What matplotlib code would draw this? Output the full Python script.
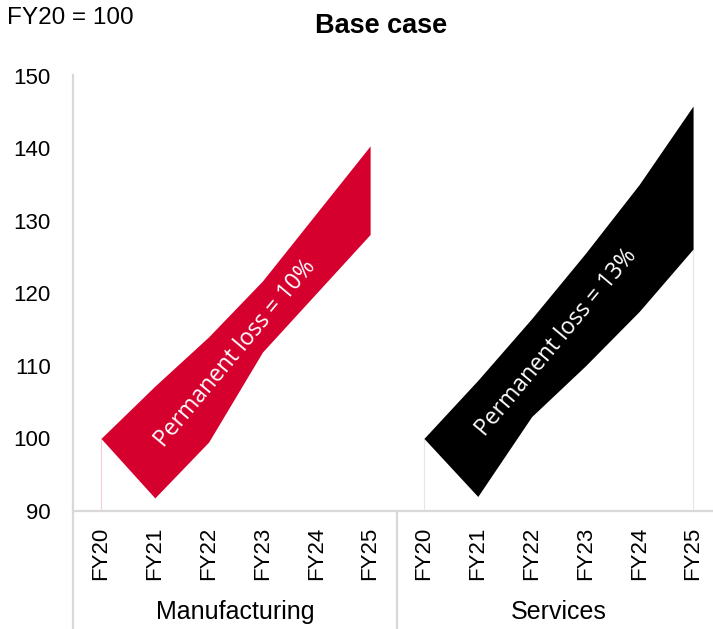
import matplotlib
matplotlib.use("Agg")
import matplotlib.pyplot as plt
from matplotlib.lines import Line2D
import numpy as np

plt.rcParams['font.family'] = ['Liberation Sans', 'DejaVu Sans']

# Index levels, FY20 = 100
years = ["FY20", "FY21", "FY22", "FY23", "FY24", "FY25"]
sectors = ["Manufacturing", "Services"]

mfg_upper = [100, 107.2, 114.0, 121.7, 131.0, 140.3]
mfg_lower = [100, 91.8, 99.5, 111.9, 120.0, 128.1]
svc_upper = [100, 108.0, 116.5, 125.5, 135.0, 145.8]
svc_lower = [100, 92.0, 103.0, 110.0, 117.5, 126.1]

loss_labels = ["Permanent loss = 10%", "Permanent loss = 13%"]
band_colors = ["#D6002F", "#000000"]

y_ticks = [90, 100, 110, 120, 130, 140, 150]

W, H = 713, 629
fig = plt.figure(figsize=(W / 100, H / 100), dpi=100)

ax_left, ax_right = 73 / W, 1.0
ax_bottom, ax_top = 1 - 511 / H, 1 - 75.5 / H
ax = fig.add_axes([ax_left, ax_bottom, ax_right - ax_left, ax_top - ax_bottom])

n = len(years)
x_mfg = np.arange(n)
x_svc = np.arange(n) + n

groups = [
    (x_mfg, mfg_lower, mfg_upper),
    (x_svc, svc_lower, svc_upper),
]
edge_colors = ["#F6CDD6", "#E6E6E6"]

for (xs, lo, up), col, ecol in zip(groups, band_colors, edge_colors):
    ax.fill_between(xs, lo, up, color=col, linewidth=0, zorder=3)
    # faint edges of the invisible base area
    ax.vlines(xs[0], 90, lo[0], color=ecol, lw=0.8, zorder=2)

ax.vlines(x_svc[-1], 90, svc_lower[-1], color="#E6E6E6", lw=0.8, zorder=2)

# band labels
label_pos = [(2.49, 111.7), (8.47, 113.2)]
for (tx, ty), lab in zip(label_pos, loss_labels):
    ax.text(tx, ty, lab, color="white", fontsize=16.5, rotation=50,
            rotation_mode="anchor", ha="center", va="center", zorder=4,
            family=["Open Sans", "DejaVu Sans"])

ax.set_ylim(90, 150)
ax.set_yticks(y_ticks)
ax.set_xlim(-0.52, 11.37)
ax.set_xticks(list(x_mfg) + list(x_svc))
ax.set_xticklabels(years + years, rotation=90, va="top", ha="center")

for s in ax.spines.values():
    s.set_visible(False)
ax.tick_params(axis="both", length=0, labelsize=16, colors="#000000")
ax.tick_params(axis="y", pad=16)
ax.tick_params(axis="x", pad=11)

grid_col = "#D9D9D9"
# axis and group-divider lines drawn in figure pixels
def fig_line(x0, y0, x1, y1):
    fig.add_artist(Line2D([x0 / W, x1 / W], [1 - y0 / H, 1 - y1 / H],
                          color=grid_col, lw=1.6, transform=fig.transFigure))

fig_line(73, 75, 73, 629)      # y axis running down through the category area
fig_line(73, 511, 713, 511)    # x axis
fig_line(397, 511, 397, 629)   # divider between sectors

# sector names
for xs, name in zip([x_mfg, x_svc], sectors):
    cx = ax.transData.transform((xs.mean(), 90))[0]
    fig.text(cx / W, 1 - 612 / H, name, ha="center", va="center", fontsize=18)

fig.text(7 / W, 1 - 18 / H, "FY20 = 100", ha="left", va="center", fontsize=17.5)
fig.text(381 / W, 1 - 26 / H, "Base case", ha="center", va="center",
         fontsize=19.5, fontweight="bold")

fig.savefig("out.png", dpi=100)
